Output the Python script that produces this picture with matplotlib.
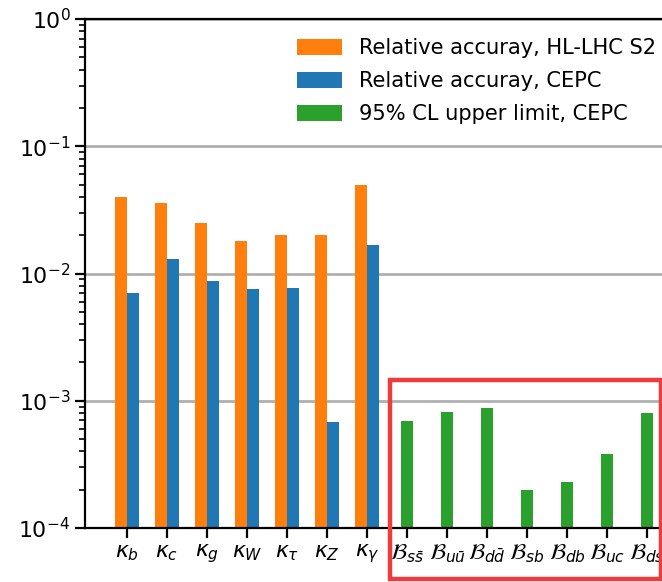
import numpy as np
import matplotlib
matplotlib.use("Agg")
import matplotlib.pyplot as plt
from matplotlib.patches import Rectangle

plt.rcParams['font.size'] = 15.8

# couplings (relative accuracy)
kappa_labels = [r'$\kappa_b$', r'$\kappa_c$', r'$\kappa_g$', r'$\kappa_W$',
                r'$\kappa_\tau$', r'$\kappa_Z$', r'$\kappa_\gamma$']
hllhc = [0.040, 0.036, 0.025, 0.018, 0.020, 0.020, 0.050]
cepc = [0.0070, 0.0131, 0.0088, 0.0075, 0.0077, 0.00068, 0.0169]

# exotic decays (95% CL upper limit)
br_labels = [r'$\mathcal{B}_{s\bar{s}}$', r'$\mathcal{B}_{u\bar{u}}$', r'$\mathcal{B}_{d\bar{d}}$',
             r'$\mathcal{B}_{sb}$', r'$\mathcal{B}_{db}$', r'$\mathcal{B}_{uc}$', r'$\mathcal{B}_{ds}$']
br_limit = [0.00069, 0.00082, 0.00087, 0.00020, 0.00023, 0.00038, 0.00080]

fig = plt.figure(figsize=(6.62, 5.82), dpi=100)
# axes runs past the right edge, like the cropped original
ax = fig.add_axes([85/662, 54/582, 604/662, 509/582])

xk = np.arange(len(kappa_labels))
xb = np.arange(len(br_labels)) + len(kappa_labels)
w = 0.3

ax.bar(xk - w/2, hllhc, w, color='#ff7f0e', label='Relative accuray, HL-LHC S2')
ax.bar(xk + w/2, cepc, w, color='#1f77b4', label='Relative accuray, CEPC')
ax.bar(xb, br_limit, w, color='#2ca02c', label='95% CL upper limit, CEPC')

ax.set_yscale('log')
ax.set_ylim(1e-4, 1)
ax.set_xlim(-1.05, 14.05)
ax.set_xticks(np.concatenate([xk, xb]))
ax.set_xticklabels(kappa_labels + br_labels)
ax.yaxis.grid(True, which='major', color='#b0b0b0', linewidth=2)
ax.set_axisbelow(True)

for s in ax.spines.values():
    s.set_linewidth(1.6)
ax.tick_params(which='major', width=1.6, length=7)
ax.tick_params(which='minor', width=1.2, length=4)

ax.legend(loc='upper left', bbox_to_anchor=(289/662, 1 - 30/582),
          bbox_transform=fig.transFigure, frameon=False, borderaxespad=0,
          fontsize=15.1, handlelength=2.15, handleheight=0.75,
          handletextpad=0.8, labelspacing=0.62)

# red highlight box around the exotic decay limits
fig.patches.append(Rectangle((390/662, 1 - 579/582), 271/662, 199/582,
                             transform=fig.transFigure, fill=False,
                             edgecolor='#ef3b3b', linewidth=3.2))

fig.savefig('out.png', dpi=100)
